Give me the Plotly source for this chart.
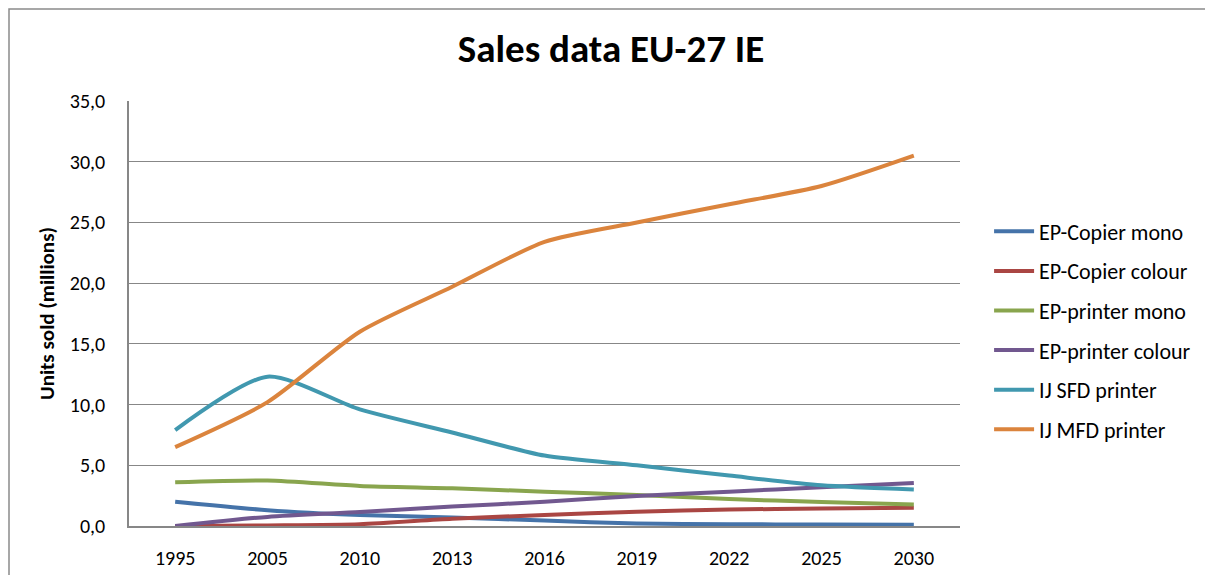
import plotly.graph_objects as go

years = ["1995", "2005", "2010", "2013", "2016", "2019", "2022", "2025", "2030"]

ep_copier_mono = [2.0, 1.3, 0.9, 0.7, 0.45, 0.2, 0.15, 0.12, 0.1]
ep_copier_colour = [0.0, 0.05, 0.15, 0.6, 0.9, 1.18, 1.35, 1.45, 1.5]
ep_printer_mono = [3.6, 3.75, 3.3, 3.1, 2.83, 2.55, 2.22, 1.98, 1.78]
ep_printer_colour = [0.0, 0.75, 1.15, 1.6, 2.0, 2.47, 2.83, 3.2, 3.55]
ij_sfd_printer = [7.9, 12.3, 9.6, 7.7, 5.8, 5.0, 4.15, 3.35, 3.0]
ij_mfd_printer = [6.5, 10.2, 16.0, 19.7, 23.4, 25.0, 26.5, 28.0, 30.5]

series_names = ["EP-Copier mono", "EP-Copier colour", "EP-printer mono",
                "EP-printer colour", "IJ SFD printer", "IJ MFD printer"]
series_values = [ep_copier_mono, ep_copier_colour, ep_printer_mono,
                 ep_printer_colour, ij_sfd_printer, ij_mfd_printer]
colors = ["#4573A9", "#AA4643", "#89A54E", "#71588F", "#4198AF", "#DB843D"]

FONT = "Carlito, Calibri, Lato, sans-serif"

fig = go.Figure()
for i, (name, vals, col) in enumerate(zip(series_names, series_values, colors)):
    fig.add_trace(go.Scatter(
        x=years, y=vals, name=name, mode="lines",
        line=dict(color=col, width=4, shape="spline", smoothing=0.7),
        legendgroup=f"g{i}",
    ))

fig.update_layout(
    width=1205, height=567,
    margin=dict(l=121, r=253, t=93, b=49),
    paper_bgcolor="white", plot_bgcolor="white",
    separators=",.",
    font=dict(family=FONT, size=20, color="black"),
    title=dict(text="<b>Sales data EU-27 IE</b>", x=(611 - 8) / 1205, xref="container",
               y=1 - (48 - 8) / 567, yref="container", yanchor="middle", xanchor="center",
               font=dict(family=FONT, size=39, color="black")),
    legend=dict(x=1.035, xanchor="left", y=0.46, yanchor="middle",
                font=dict(family=FONT, size=22), tracegroupgap=8,
                itemwidth=40, bgcolor="rgba(0,0,0,0)"),
    showlegend=True,
    shapes=[dict(type="rect", xref="paper", yref="paper",
                 x0=-0.1444, x1=1.6, y0=-0.3, y1=1.2165,
                 line=dict(color="#8a8a8a", width=1.5), layer="below")],
)
fig.update_xaxes(type="category", range=[-0.5, 8.5], showline=True,
                 linecolor="#878787", linewidth=1.5, automargin=False,
                 showgrid=False, ticks="", tickfont=dict(size=20),
                 ticklabelstandoff=13, zeroline=False)
fig.update_yaxes(range=[0, 35], dtick=5, tickformat=".1f", showline=True,
                 linecolor="#878787", linewidth=1.5, showgrid=True, automargin=False,
                 gridcolor="#878787", gridwidth=1.3, zeroline=False, ticks="",
                 tickfont=dict(size=20), ticklabelstandoff=18,
                 title=dict(text="<b>Units sold (millions)</b>",
                            font=dict(family=FONT, size=21), standoff=9))

fig.write_html("out.html")
